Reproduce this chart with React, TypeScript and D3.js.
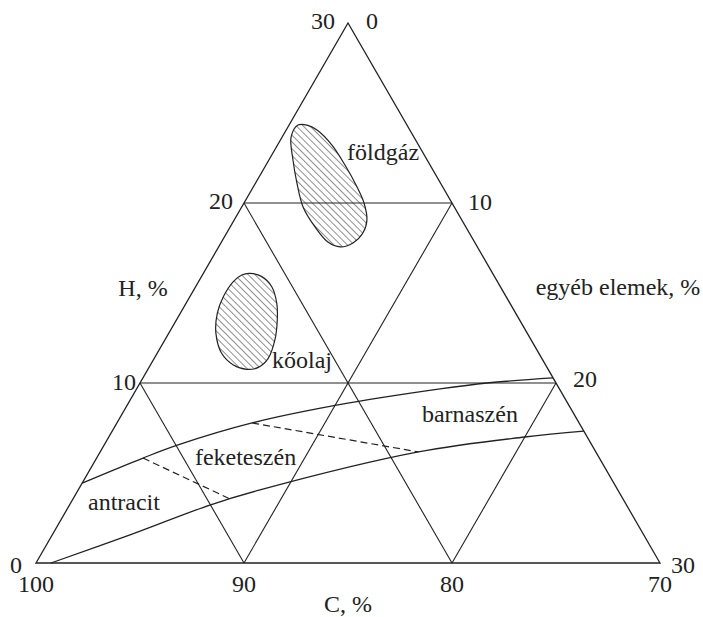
import React from "react";
import * as d3 from "d3";

// Ternary coordinates: [H %, other elements %]; C % = 100 - H - O
const hTicks = [0, 10, 20, 30];
const oTicks = [0, 10, 20, 30];
const cTicks = [100, 90, 80, 70];
const gridLevels = [10, 20];

const naturalGas: [number, number][] = [
  [24.33, 0.43], [23.67, 0.43], [22.39, 1.16], [21.11, 1.99], [19.78, 2.95],
  [18.67, 4.08], [17.83, 5.12], [17.56, 5.84], [17.78, 6.35], [18.33, 6.55],
  [19.06, 6.38], [20.0, 5.77], [20.89, 4.99], [22.11, 3.8], [23.22, 2.62],
  [24.06, 1.48], [24.33, 0.86],
];

const crudeOil: [number, number][] = [
  [16.09, 2.24], [15.91, 2.9], [15.35, 3.66], [14.43, 4.36], [13.5, 4.85],
  [12.39, 5.29], [11.37, 5.48], [10.87, 5.25], [10.76, 4.75], [11.0, 3.99],
  [11.65, 3.1], [12.76, 2.27], [13.87, 1.78], [14.79, 1.61], [15.63, 1.67],
  [16.0, 1.89],
];

const coalUpper: [number, number][] = [
  [4.44, 0], [5.83, 2.23], [6.56, 3.55], [7.78, 6.5], [8.78, 10.13],
  [9.67, 14.59], [10.0, 16.68], [10.28, 19.72],
];

const coalLower: [number, number][] = [
  [0, 0.72], [1.56, 3.74], [3.22, 6.75], [4.06, 8.74], [6.17, 15.3],
  [7.0, 20.0], [7.33, 22.67],
];

const coalDividers: [number, number][][] = [
  [[5.83, 2.23], [3.56, 7.55]],
  [[7.78, 6.5], [6.17, 15.3]],
];

const regionNames = ["földgáz", "kőolaj", "barnaszén", "feketeszén", "antracit"];
const regionH = [22.39, 10.83, 7.83, 5.44, 2.94];
const regionO = [3.76, 5.93, 14.64, 4.92, 1.03];

const W = 703;
const H = 617;
const FONT = "'Liberation Serif', 'Times New Roman', Times, serif";

const left = { x: 36, y: 563 };
const right = { x: 660, y: 563 };
const top = { x: 348, y: 23 };

// label nudges for the two slanted axes: [dx, dy]
const hTickShift: [number, number][] = [[-14, 10], [-4, 7], [-11, 6], [-13, 6]];
const oTickShift: [number, number][] = [[18, 6], [16, 7], [17, 4], [11, 10]];

const frac = d3.scaleLinear().domain([0, 30]).range([0, 1]);

function pt(h: number, o: number): [number, number] {
  const a = frac(h);
  const b = frac(o);
  return [
    left.x + a * (top.x - left.x) + b * (right.x - left.x),
    left.y + a * (top.y - left.y) + b * (right.y - left.y),
  ];
}

const closedPath = d3
  .line<[number, number]>()
  .x((d) => pt(d[0], d[1])[0])
  .y((d) => pt(d[0], d[1])[1])
  .curve(d3.curveCatmullRomClosed.alpha(0.5));

const openPath = d3
  .line<[number, number]>()
  .x((d) => pt(d[0], d[1])[0])
  .y((d) => pt(d[0], d[1])[1])
  .curve(d3.curveCatmullRom.alpha(0.5));

const straight = d3
  .line<[number, number]>()
  .x((d) => pt(d[0], d[1])[0])
  .y((d) => pt(d[0], d[1])[1]);

const textStyle: React.CSSProperties = {
  fontFamily: FONT,
  fontSize: 24,
  fill: "#222",
};

export default function App() {
  const outline: [number, number][] = [[0, 0], [30, 0], [0, 30]];

  // Grid lines at 10 and 20 for each component
  const grid: [number, number][][] = [];
  gridLevels.forEach((v) => {
    grid.push([[v, 0], [v, 30 - v]]); // constant H
    grid.push([[0, v], [30 - v, v]]); // constant O
    grid.push([[v, 0], [0, v]]); // constant C (H + O = v)
  });

  return (
    <svg
      width={W}
      height={H}
      style={{ position: "absolute", left: 0, top: 0, background: "#fff" }}
    >
      <defs>
        <pattern
          id="hatch"
          patternUnits="userSpaceOnUse"
          width={4.8}
          height={4.8}
          patternTransform="rotate(-45)"
        >
          <line x1={0} y1={0} x2={0} y2={4.8} stroke="#222" strokeWidth={1} />
        </pattern>
      </defs>

      <path
        d={straight(outline)! + "Z"}
        fill="none"
        stroke="#222"
        strokeWidth={1.3}
      />
      {grid.map((g, i) => (
        <path key={i} d={straight(g)!} stroke="#222" strokeWidth={1.1} fill="none" />
      ))}

      <path d={openPath(coalUpper)!} stroke="#222" strokeWidth={1.3} fill="none" />
      <path d={openPath(coalLower)!} stroke="#222" strokeWidth={1.3} fill="none" />
      {coalDividers.map((d, i) => (
        <path
          key={i}
          d={straight(d)!}
          stroke="#222"
          strokeWidth={1.2}
          strokeDasharray="7,4"
          fill="none"
        />
      ))}

      <path d={closedPath(naturalGas)!} fill="url(#hatch)" stroke="#222" strokeWidth={1.2} />
      <path d={closedPath(crudeOil)!} fill="url(#hatch)" stroke="#222" strokeWidth={1.2} />

      {regionNames.map((name, i) => {
        const [x, y] = pt(regionH[i], regionO[i]);
        return (
          <text key={name} x={x} y={y} textAnchor="start" style={textStyle}>
            {name}
          </text>
        );
      })}

      {hTicks.map((v, i) => {
        const [x, y] = pt(v, 0);
        const [dx, dy] = hTickShift[i];
        return (
          <text key={"h" + v} x={x + dx} y={y + dy} textAnchor="end" style={textStyle}>
            {v}
          </text>
        );
      })}
      {oTicks.map((v, i) => {
        // right side: C = 70, H = 30 - O
        const [x, y] = pt(30 - v, v);
        const [dx, dy] = oTickShift[i];
        return (
          <text key={"o" + v} x={x + dx} y={y + dy} textAnchor="start" style={textStyle}>
            {v}
          </text>
        );
      })}
      {cTicks.map((v) => {
        const [x, y] = pt(0, 100 - v);
        return (
          <text key={"c" + v} x={x} y={y + 29} textAnchor="middle" style={textStyle}>
            {v}
          </text>
        );
      })}

      <text x={143} y={296} textAnchor="middle" style={textStyle}>
        H, %
      </text>
      <text x={618} y={295} textAnchor="middle" style={textStyle}>
        egyéb elemek, %
      </text>
      <text x={pt(0, 15)[0]} y={612} textAnchor="middle" style={textStyle}>
        C, %
      </text>
    </svg>
  );
}
